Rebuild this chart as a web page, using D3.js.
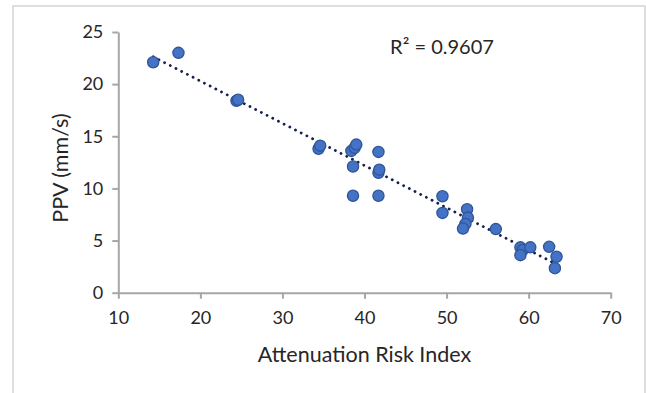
<!DOCTYPE html>
<html>
<head>
<meta charset="utf-8">
<script src="https://cdn.jsdelivr.net/npm/d3@7"></script>
<style>
  body { margin: 0; background: #fff; }
  svg text { font-family: Lato, "Open Sans", sans-serif; fill: #262626; }
</style>
</head>
<body>
<svg id="chart" width="646" height="393"></svg>
<script>
// Attenuation risk index vs PPV
const ari = [14.25, 17.33, 24.4, 24.6, 34.4, 34.6, 38.4, 38.8, 39.0, 41.7,
             38.6, 41.7, 41.8, 38.6, 41.7, 49.5, 49.5, 52.5, 52.6, 52.3,
             52.0, 56.0, 59.0, 59.3, 60.2, 59.0, 62.5, 63.4, 63.2];
const ppv = [22.1, 23.0, 18.4, 18.5, 13.8, 14.1, 13.6, 13.9, 14.2, 13.5,
             12.1, 11.5, 11.8, 9.3, 9.3, 9.25, 7.65, 8.0, 7.2, 6.6,
             6.15, 6.1, 4.35, 4.1, 4.35, 3.6, 4.4, 3.45, 2.35];
const xTicks = [10, 20, 30, 40, 50, 60, 70];
const yTicks = [0, 5, 10, 15, 20, 25];
const r2Label = "R² = 0.9607";

const svg = d3.select("#chart");

// outer chart border
svg.append("rect")
    .attr("x", 13).attr("y", 6)
    .attr("width", 632).attr("height", 420)
    .attr("fill", "none")
    .attr("stroke", "#d4d4d4")
    .attr("stroke-width", 1.5);

const plotLeft = 118.3, plotRight = 610.7, plotTop = 32, plotBottom = 292.7;

const x = d3.scaleLinear().domain([10, 70]).range([plotLeft, plotRight]);
const y = d3.scaleLinear().domain([0, 25]).range([plotBottom, plotTop]);

// axes
const xAxis = svg.append("g")
    .attr("transform", `translate(0,${plotBottom})`)
    .call(d3.axisBottom(x).tickValues(xTicks).tickSize(6).tickSizeOuter(0).tickPadding(13));
const yAxis = svg.append("g")
    .attr("transform", `translate(${plotLeft},0)`)
    .call(d3.axisLeft(y).tickValues(yTicks).tickSize(6).tickSizeOuter(0).tickPadding(9));

[xAxis, yAxis].forEach(a => {
    a.selectAll("path, line").attr("stroke", "#a6a6a6").attr("stroke-width", 2);
    a.selectAll("text").style("font-size", "18px").attr("fill", "#262626");
});

// trend line (least squares)
const mx = d3.mean(ari), my = d3.mean(ppv);
const slope = d3.sum(ari, (v, i) => (v - mx) * (ppv[i] - my)) / d3.sum(ari, v => (v - mx) * (v - mx));
const icpt = my - slope * mx;
const [x0, x1] = d3.extent(ari);

svg.append("line")
    .attr("x1", x(x0)).attr("y1", y(icpt + slope * x0))
    .attr("x2", x(x1)).attr("y2", y(icpt + slope * x1))
    .attr("stroke", "#14214f")
    .attr("stroke-width", 2.8)
    .attr("stroke-linecap", "round")
    .attr("stroke-dasharray", "0.1 6.3");

// points
svg.selectAll(".pt")
    .data(ari.map((v, i) => ({ a: v, p: ppv[i] })))
    .enter()
    .append("circle")
    .attr("class", "pt")
    .attr("cx", d => x(d.a))
    .attr("cy", d => y(d.p))
    .attr("r", 5.6)
    .attr("fill", "#4472c4")
    .attr("stroke", "#2f5597")
    .attr("stroke-width", 1.3);

// labels
svg.append("text")
    .attr("x", 442).attr("y", 54)
    .attr("text-anchor", "middle")
    .style("font-size", "20px")
    .text(r2Label);

svg.append("text")
    .attr("x", (plotLeft + plotRight) / 2).attr("y", 362)
    .attr("text-anchor", "middle")
    .style("font-size", "21.5px")
    .text("Attenuation Risk Index");

svg.append("text")
    .attr("transform", `translate(68,168) rotate(-90)`)
    .attr("text-anchor", "middle")
    .style("font-size", "21.5px")
    .text("PPV (mm/s)");
</script>
</body>
</html>
